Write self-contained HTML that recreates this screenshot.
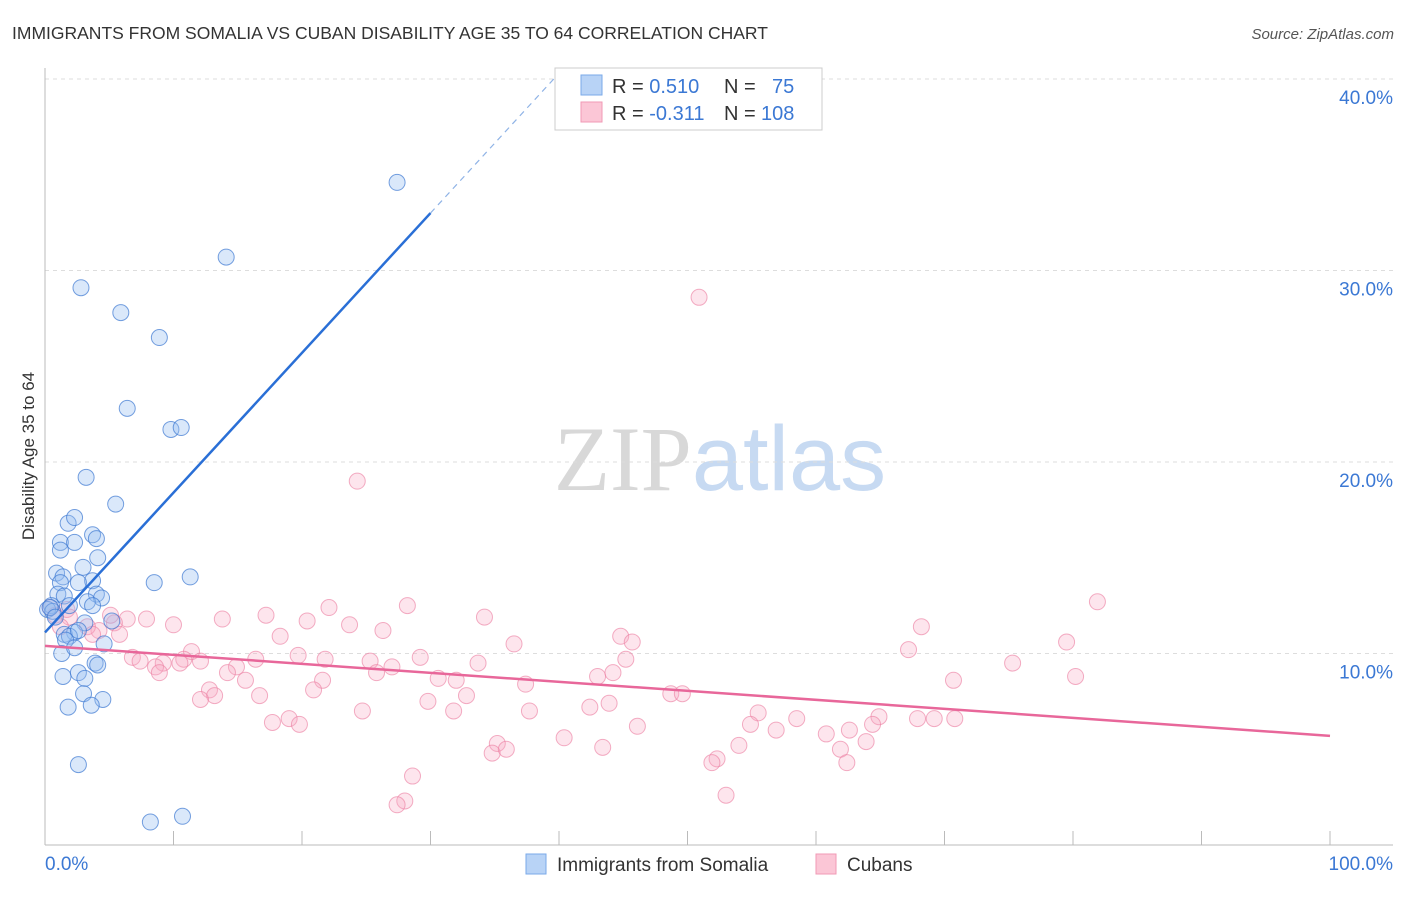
<!DOCTYPE html>
<html><head><meta charset="utf-8"><style>
body{margin:0;background:#fff;font-family:"Liberation Sans",sans-serif}
svg text{font-family:"Liberation Sans",sans-serif}
</style></head><body>
<svg id="chart" width="1406" height="892" xmlns="http://www.w3.org/2000/svg">
<text x="12" y="39" font-size="17.5" fill="#333">IMMIGRANTS FROM SOMALIA VS CUBAN DISABILITY AGE 35 TO 64 CORRELATION CHART</text>
<text x="1394" y="39" font-size="15" fill="#555" text-anchor="end" font-style="italic">Source: ZipAtlas.com</text>
<text x="720" y="490" font-size="92" text-anchor="middle"><tspan fill="#d8d8d8" font-family="Liberation Serif">ZIP</tspan><tspan fill="#c7daf2">atlas</tspan></text>
<text transform="translate(34,456) rotate(-90)" font-size="17" fill="#333" text-anchor="middle">Disability Age 35 to 64</text>
<g id="grid"></g><g id="axes"></g><g id="pts"></g><g id="trend"></g>
<g>
<rect x="555" y="68" width="267" height="62" fill="#fff" stroke="#ccc"/>
<rect x="581" y="75" width="21" height="20" fill="#b8d3f6" stroke="#7aaae8"/>
<rect x="581" y="102" width="21" height="20" fill="#fbc6d6" stroke="#f09ab5"/>
<text x="612" y="93" font-size="20" fill="#333">R = <tspan fill="#3b78d4"> 0.510</tspan><tspan x="724">N = </tspan><tspan x="772" fill="#3b78d4">75</tspan></text>
<text x="612" y="120" font-size="20" fill="#333">R = <tspan fill="#3b78d4">-0.311</tspan><tspan x="724">N = </tspan><tspan x="761" fill="#3b78d4">108</tspan></text>
</g>
<g>
<rect x="526" y="854" width="20" height="20" fill="#b8d3f6" stroke="#7aaae8"/>
<text x="557" y="871" font-size="19" fill="#333">Immigrants from Somalia</text>
<rect x="816" y="854" width="20" height="20" fill="#fbc6d6" stroke="#f09ab5"/>
<text x="847" y="871" font-size="19" fill="#333">Cubans</text>
</g>
</svg>
<script>
const yTicks=[10,20,30,40];
const yTickLabels=["10.0%","20.0%","30.0%","40.0%"];
const xTickLabels=["0.0%","100.0%"];
const somaliaX=[27.4,14.1,2.8,5.9,8.9,6.4,9.8,10.6,3.2,5.5,1.8,2.3,3.7,1.2,2.3,4.0,1.2,4.1,2.96,0.9,1.4,3.7,8.5,11.3,1.2,2.6,1.0,1.5,4.0,4.4,0.5,0.2,0.6,3.3,3.7,1.9,5.2,3.1,2.3,1.5,1.9,1.6,2.6,4.6,1.3,2.3,3.9,4.1,1.4,2.6,3.1,3.0,4.5,3.6,1.8,2.6,8.2,10.7,0.4,0.8];
const somaliaY=[34.6,30.7,29.1,27.8,26.5,22.8,21.7,21.8,19.2,17.8,16.8,17.1,16.2,15.8,15.8,16.0,15.4,15.0,14.5,14.2,14.0,13.8,13.7,14.0,13.7,13.7,13.1,13.0,13.1,12.9,12.5,12.3,12.2,12.7,12.5,12.5,11.7,11.6,11.1,11.0,10.9,10.7,11.2,10.5,10.0,10.3,9.5,9.4,8.8,9.0,8.7,7.9,7.6,7.3,7.2,4.2,1.2,1.5,12.4,11.9];
const cubanX=[50.9,24.3,81.9,28.2,17.2,22.1,34.2,7.9,10.0,13.8,20.4,23.7,26.3,68.2,6.4,5.4,4.2,5.8,18.3,44.8,45.7,36.5,79.5,67.2,19.7,16.4,45.2,11.4,6.8,7.4,9.2,12.1,21.8,29.2,25.3,27.0,33.7,8.6,10.8,14.9,14.2,25.8,75.3,80.2,8.9,43.0,44.2,30.6,32.0,21.6,15.6,70.7,37.4,20.9,12.8,13.2,16.7,48.7,49.6,32.8,12.1,29.8,42.4,43.9,24.7,31.8,37.7,55.5,64.9,58.5,19.0,17.7,19.8,46.1,54.9,56.9,67.9,69.2,70.8,64.4,60.8,62.6,40.4,35.2,43.4,54.0,63.9,61.9,34.8,35.9,52.3,51.9,62.4,28.6,53.0,28.0,27.4,0.4,0.8,1.7,1.9,3.3,1.2,5.1,3.7,10.5];
const cubanY=[28.6,19.0,12.7,12.5,12.0,12.4,11.9,11.8,11.5,11.8,11.7,11.5,11.2,11.4,11.8,11.6,11.2,11.0,10.9,10.9,10.6,10.5,10.6,10.2,9.9,9.7,9.7,10.1,9.8,9.6,9.5,9.6,9.7,9.8,9.6,9.3,9.5,9.3,9.7,9.3,9.0,9.0,9.5,8.8,9.0,8.8,9.0,8.7,8.6,8.6,8.6,8.6,8.4,8.1,8.1,7.8,7.8,7.9,7.9,7.8,7.6,7.5,7.2,7.4,7.0,7.0,7.0,6.9,6.7,6.6,6.6,6.4,6.3,6.2,6.3,6.0,6.6,6.6,6.6,6.3,5.8,6.0,5.6,5.3,5.1,5.2,5.4,5.0,4.8,5.0,4.5,4.3,4.3,3.6,2.6,2.3,2.1,12.4,12.0,12.3,11.9,11.4,11.4,12.0,11.0,9.5];
const somaliaTrend=[11.1,0.73]; // intercept, slope
const cubanTrend=[10.4,-0.047];
const X=v=>45+v*12.85, Y=v=>845-v*19.15;
const NS="http://www.w3.org/2000/svg";
function mk(p,t,a){const e=document.createElementNS(NS,t);for(const k in a)e.setAttribute(k,a[k]);p.appendChild(e);return e;}
const grid=document.getElementById('grid'),axes=document.getElementById('axes'),pts=document.getElementById('pts'),tr=document.getElementById('trend');
yTicks.forEach((t,i)=>{
 const l=mk(grid,'line',{x1:45,x2:1393,y1:Y(t),y2:Y(t),stroke:'#ddd','stroke-dasharray':'4,4'});
 
 
 const tx=mk(axes,'text',{x:1393,y:Y(t)+25,'font-size':19,fill:'#3b78d4','text-anchor':'end'});
 tx.textContent=yTickLabels[i];
 
 
});
const ya=mk(axes,'line',{x1:45,x2:45,y1:68,y2:845,stroke:'#bbb'});


const xa=mk(axes,'line',{x1:45,x2:1393,y1:845,y2:845,stroke:'#bbb'});


for(let i=0;i<=10;i++){
 const tk=mk(axes,'line',{x1:X(i*10),x2:X(i*10),y1:831,y2:845,stroke:'#bbb'});
 
 
}
[[0,'start',45],[100,'end',1393]].forEach((d,i)=>{
 const tx=mk(axes,'text',{x:d[2],y:870,'font-size':19,fill:'#3b78d4','text-anchor':d[1]});
 tx.textContent=xTickLabels[i];
 
 
});
cubanX.forEach((x,i)=>{
 const c=mk(pts,'circle',{cx:X(x),cy:Y(cubanY[i]),r:8,fill:'rgba(248,170,195,0.3)',stroke:'rgba(236,130,165,0.65)','stroke-width':1});
 
 
});
somaliaX.forEach((x,i)=>{
 const c=mk(pts,'circle',{cx:X(x),cy:Y(somaliaY[i]),r:8,fill:'rgba(150,190,240,0.35)',stroke:'rgba(60,120,210,0.7)','stroke-width':1});
 
 
});
const sy=x=>somaliaTrend[0]+somaliaTrend[1]*x;
const l1=mk(tr,'line',{x1:X(0),y1:Y(sy(0)),x2:X(30),y2:Y(sy(30)),stroke:'#2a6fd6','stroke-width':2.5});


const l2=mk(tr,'line',{x1:X(30),y1:Y(sy(30)),x2:X(39.7),y2:Y(sy(39.7)),stroke:'#8fb3e6','stroke-width':1.2,'stroke-dasharray':'6,5'});


const cy=x=>cubanTrend[0]+cubanTrend[1]*x;
const l3=mk(tr,'line',{x1:X(0),y1:Y(cy(0)),x2:X(100),y2:Y(cy(100)),stroke:'#e8679a','stroke-width':2.5});


</script>
</body></html>
